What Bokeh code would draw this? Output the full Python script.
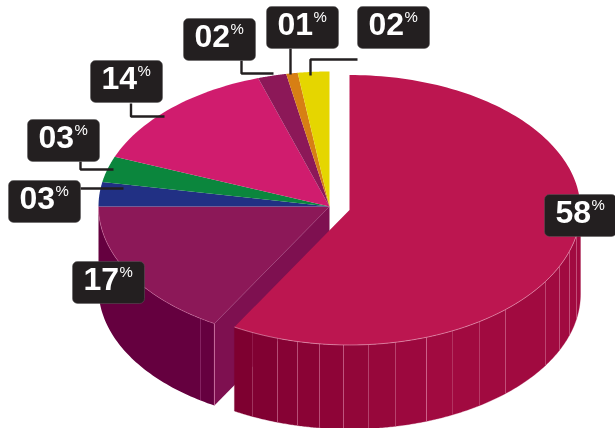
import math
from bokeh.plotting import figure
from bokeh.embed import file_html
from bokeh.resources import INLINE
from bokeh.core.properties import value

# ---- data ----
shares = [58.3, 16.7, 2.9, 3.1, 14.0, 2.0, 0.8, 2.2]
labels = ["58", "17", "03", "03", "14", "02", "01", "02"]
top_colors = ["#BC1650", "#8C1858", "#213084", "#0B863D", "#D01C6E", "#8C1858", "#D77F14", "#E5D600"]

# ---- layout of the drawing (page pixels) ----
W, H = 615, 428
RX, RY = 231, 135
CX_MAIN, CY_MAIN, DEPTH_MAIN = 349, 209.5, 84
CX_REST, CY_REST, DEPTH_REST = 329, 206, 82
facet_x = [252, 277, 297, 319, 343, 368, 395, 426, 452, 479, 505, 545, 559, 569, 576]
facet_alpha = [.2, .45, .45, .45, .5, .3, .3, .6, .12, .2, .4, .3, .4, .4, .4]
box_w, box_h = 72, 42
box_pos = {0: (544, 194), 1: (72, 261), 2: (8, 180), 3: (27, 119), 4: (90, 60), 5: (183, 18), 6: (266, 6), 7: (357, 6)}
leaders = [
    ([130.5, 130.5, 164], [103, 116, 116]),
    ([80, 80, 113], [161, 169, 169]),
    ([80, 123], [188, 188]),
    ([241, 241, 273], [60, 73, 73]),
    ([290, 290], [48, 74]),
    ([357, 310, 310], [59, 59, 75]),
]


def pt(cx, cy, a):
    r = math.radians(a)
    return cx + RX * math.sin(r), cy - RY * math.cos(r)


def arc(cx, cy, a0, a1, n=60):
    pts = [pt(cx, cy, a0 + (a1 - a0) * i / n) for i in range(n + 1)]
    return [q[0] for q in pts], [q[1] for q in pts]


def mix(c0, c1, t):
    a = [int(c0[i:i + 2], 16) for i in (1, 3, 5)]
    b = [int(c1[i:i + 2], 16) for i in (1, 3, 5)]
    return "#%02x%02x%02x" % tuple(round(x + (y - x) * t) for x, y in zip(a, b))


def x_to_angle(x, cx):
    return 180 - math.degrees(math.asin((x - cx) / RX))


p = figure(width=W, height=H, x_range=(0, W), y_range=(H, 0), output_backend="svg",
           toolbar_location=None, min_border=0, outline_line_color=None,
           background_fill_color="white", border_fill_color="white",
           styles={"position": "fixed", "left": "0px", "top": "0px"})
p.axis.visible = False
p.grid.visible = False

angles = []
a = 0.0
for s in shares:
    angles.append((a, a + s * 3.6))
    a += s * 3.6

# walls of the 17% slice
a0, a1 = angles[1]
tx, ty = arc(CX_REST, CY_REST, a0, a1)
p.patch(tx + tx[::-1], ty + [y + DEPTH_REST for y in ty[::-1]], fill_color="#65003F", line_color=None)
cx0, cy0 = pt(CX_REST, CY_REST, a0)
p.patch([CX_REST, cx0, cx0, CX_REST], [CY_REST, cy0, cy0 + DEPTH_REST, CY_REST + DEPTH_REST],
        fill_color="#7E1050", line_color=None)
fx0, fy0 = pt(CX_REST, CY_REST, x_to_angle(200, CX_REST))
p.line([fx0, fx0], [fy0, fy0 + DEPTH_REST], line_color="#C060A0", line_alpha=.5, line_width=.7)
p.line([cx0, cx0], [cy0, cy0 + DEPTH_REST], line_color="#E080B0", line_alpha=.8, line_width=.8)
p.line([CX_REST, cx0], [CY_REST, cy0], line_color="#B05090", line_alpha=.5, line_width=.7)

# top faces of the smaller slices
for i in range(1, len(shares)):
    ax, ay = arc(CX_REST, CY_REST, *angles[i], n=30)
    p.patch([CX_REST] + ax, [CY_REST] + ay, fill_color=top_colors[i], line_color=None)
ax, ay = arc(CX_REST, CY_REST, *angles[1])
p.line(ax, ay, line_color="#E080B0", line_alpha=.7, line_width=.6)

# outer wall of the large slice, in facets
a0, a1 = angles[0]
left_x = pt(CX_MAIN, CY_MAIN, a1)[0]
edges = [a1] + [x_to_angle(x, CX_MAIN) for x in facet_x] + [90.0]
for j in range(len(edges) - 1):
    fx, fy = arc(CX_MAIN, CY_MAIN, edges[j], edges[j + 1], n=16)
    t = min(1.0, max(0.0, (fx[0] - left_x) / 190))
    p.patch(fx + fx[::-1], fy + [y + DEPTH_MAIN for y in fy[::-1]],
            fill_color=mix("#7E0030", "#A10A40", t), line_color=mix("#7E0030", "#A10A40", t), line_width=.3)
for e, al in zip(edges[1:-1], facet_alpha):
    lx, ly = pt(CX_MAIN, CY_MAIN, e)
    p.line([lx, lx], [ly, ly + DEPTH_MAIN], line_color="#F0A0C0", line_alpha=al, line_width=.8)

# top face of the large slice
ax, ay = arc(CX_MAIN, CY_MAIN, a0, a1, n=160)
p.patch([CX_MAIN] + ax, [CY_MAIN] + ay, fill_color=top_colors[0], line_color=None)
ex, ey = arc(CX_MAIN, CY_MAIN, 90, a1)
p.line(ex, ey, line_color="#F0B0C8", line_alpha=.8, line_width=.7)

# leader lines
for lx, ly in leaders:
    p.line(lx, ly, line_color="#231F20", line_width=2.4)

# label boxes
for i, lab in enumerate(labels):
    bx, by = box_pos[i]
    p.quad(left=bx, right=bx + box_w, top=by, bottom=by + box_h, fill_color="#231F20",
           line_color="#5A5858", line_width=.5, border_radius=5)
    p.text([bx + 11], [by + 17], text=[lab], text_color="white", text_font=value("Liberation Sans"),
           text_font_style="bold", text_font_size="32px", text_align="left", text_baseline="alphabetic")
    p.text([bx + 47], [by + 10], text=["%"], text_color="white", text_font=value("Liberation Sans"),
           text_font_size="15px", text_align="left", text_baseline="alphabetic")

open("out.html", "w").write(file_html(p, INLINE))
